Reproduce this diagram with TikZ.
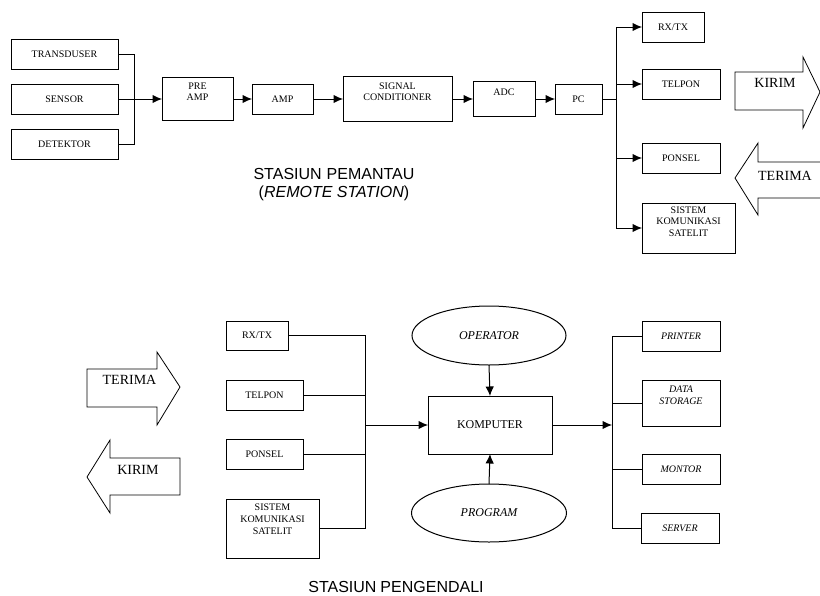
\documentclass[tikz,border=0pt]{standalone}
\usepackage{fontspec}
\setmainfont{Liberation Serif}
\newfontfamily\titlesans{Liberation Sans}
\usetikzlibrary{arrows.meta,shapes.geometric}
\tikzset{
  box/.style={draw, line width=1pt, inner sep=0pt, outer sep=0pt, align=center,
    font=\fontsize{10}{11.5}\selectfont},
  bbox/.style={box, font=\fontsize{10}{12}\selectfont},
  oval/.style={draw, ellipse, line width=1pt, inner sep=0pt, outer sep=0pt,
    font=\fontsize{12}{14}\selectfont\itshape},
  conn/.style={line width=1pt},
  arr/.style={line width=1pt, -{Latex[length=9.5pt,width=8.5pt]}},
  bigarrow/.style={draw, line width=0.8pt, line join=miter},
  alabel/.style={font=\fontsize{14}{16}\selectfont, inner sep=0pt},
  title/.style={font=\titlesans\fontsize{16}{19}\selectfont, inner sep=0pt, align=center}
}
\begin{document}
\begin{tikzpicture}[x=1pt,y=-1pt]
\useasboundingbox (0,0) rectangle (820,595);
% ---------- top: remote station ----------
\node[box, minimum width=107, minimum height=30] (trans) at (64.5,54) {TRANSDUSER};
\node[box, minimum width=107, minimum height=30] (sensor) at (64.5,99) {SENSOR};
\node[box, minimum width=107, minimum height=30] (detek) at (64.5,144) {DETEKTOR};
\node[box, minimum width=71, minimum height=43] (preamp) at (197.5,99) {PRE\\AMP\\[3pt]};
\node[box, minimum width=61, minimum height=30] (amp) at (282.5,99) {AMP};
\node[box, minimum width=109, minimum height=45] (sig) at (397.5,99) {SIGNAL\\CONDITIONER\\[3pt]};
\node[box, minimum width=62, minimum height=35] (adc) at (504,99) {ADC\\[2pt]};
\node[box, minimum width=47, minimum height=30] (pc) at (578.5,99) {PC};
\coordinate (busL) at (134,99);
\coordinate (busR) at (616,99);
\draw[conn] (trans.east) -| (busL);
\draw[conn] (detek.east) -| (busL);
\draw[arr] (sensor.east) -- (preamp.west);
\draw[arr] (preamp.east) -- (amp.west);
\draw[arr] (amp.east) -- (sig.west);
\draw[arr] (sig.east) -- (adc.west);
\draw[arr] (adc.east) -- (pc.west);
\draw[conn] (pc.east) -- (busR);
\node[box, minimum width=62, minimum height=30] (rxtx) at (673,27) {RX/TX};
\node[box, minimum width=78, minimum height=30] (telpon) at (681,84) {TELPON};
\node[box, minimum width=78, minimum height=30] (ponsel) at (681,158) {PONSEL};
\node[box, minimum width=93, minimum height=50] (sat) at (688.5,228) {SISTEM\\KOMUNIKASI\\SATELIT\\[2pt]};
\coordinate (bt) at (616,27);
\coordinate (bb) at (616,228);
\draw[conn] (bt) -- (bb);
\draw[arr] (bt) -- (rxtx.west);
\draw[arr] (busR |- telpon.west) -- (telpon.west);
\draw[arr] (busR |- ponsel.west) -- (ponsel.west);
\draw[arr] (bb) -- (sat.west);
% big arrows top
\draw[bigarrow] (803,72) -- (735,72) -- (735,110) -- (803,110) -- (803,128) -- (820,92) -- (803,57) -- cycle;
\node[alabel] (kirim1) at (775,83) {KIRIM};
\draw[bigarrow] (821,162) -- (758,162) -- (758,143) -- (735,178) -- (758,215) -- (758,198) -- (821,198);
\node[alabel] (terima1) at (785,176) {TERIMA};
\node[title] (t1) at (334,174) {STASIUN\hspace{5pt}PEMANTAU};
\node[title] (t2) at (334,193) {(\textit{REMOTE STATION})};
% ---------- bottom: control station ----------
\node[bbox, minimum width=62, minimum height=29] (brx) at (257,335.5) {RX/TX};
\node[bbox, minimum width=77, minimum height=30] (btel) at (264.5,395) {TELPON};
\node[bbox, minimum width=77, minimum height=30] (bpon) at (264.5,454) {PONSEL};
\node[bbox, minimum width=93, minimum height=59] (bsat) at (272.5,528.5) {SISTEM\\KOMUNIKASI\\SATELIT\\[6pt]};
\coordinate (b2t) at (365,335.5);
\coordinate (b2b) at (365,528.5);
\coordinate (b2m) at (365,425);
\draw[conn] (brx.east) -- (b2t) -- (b2b) -- (bsat.east);
\draw[conn] (btel.east) -- (btel.east -| b2t);
\draw[conn] (bpon.east) -- (bpon.east -| b2t);
\node[box, font=\fontsize{12}{14}\selectfont, minimum width=124, minimum height=58] (komp) at (490,425) {KOMPUTER};
\node[oval, minimum width=154, minimum height=59] (oper) at (489,335.5) {OPERATOR};
\node[oval, minimum width=155, minimum height=58] (prog) at (489,513) {PROGRAM};
\draw[arr] (b2m) -- (komp.west);
\draw[arr] (oper.south) -- (komp.north);
\draw[arr] (prog.north) -- (komp.south);
\coordinate (b3m) at (612,425);
\draw[arr] (komp.east) -- (b3m);
\node[bbox, font=\fontsize{10}{12}\selectfont\itshape, minimum width=78, minimum height=30] (printer) at (681,336) {PRINTER};
\node[bbox, font=\fontsize{10}{12}\selectfont\itshape, minimum width=78, minimum height=46] (dstor) at (681,403) {DATA\\STORAGE\\[4pt]};
\node[bbox, font=\fontsize{10}{12}\selectfont\itshape, minimum width=78, minimum height=30] (monit) at (681,469) {MONTOR};
\node[bbox, font=\fontsize{10}{12}\selectfont\itshape, minimum width=78, minimum height=30] (server) at (680,528) {SERVER};
\coordinate (b3t) at (612,336);
\coordinate (b3b) at (612,528);
\draw[conn] (printer.west) -- (b3t) -- (b3b) -- (server.west);
\draw[conn] (b3t |- dstor.west) -- (dstor.west);
\draw[conn] (b3t |- monit.west) -- (monit.west);
% big arrows bottom
\draw[bigarrow] (157,369) -- (87,369) -- (87,407) -- (157,407) -- (157,425) -- (180,387) -- (157,352) -- cycle;
\node[alabel] (terima2) at (129.5,380) {TERIMA};
\draw[bigarrow] (110,458) -- (180,458) -- (180,495) -- (110,495) -- (110,513) -- (87,477) -- (110,440) -- cycle;
\node[alabel] (kirim2) at (138,470) {KIRIM};
\node[title] (t3) at (396,587) {STASIUN\hspace{4pt}PENGENDALI};
\end{tikzpicture}
\end{document}
